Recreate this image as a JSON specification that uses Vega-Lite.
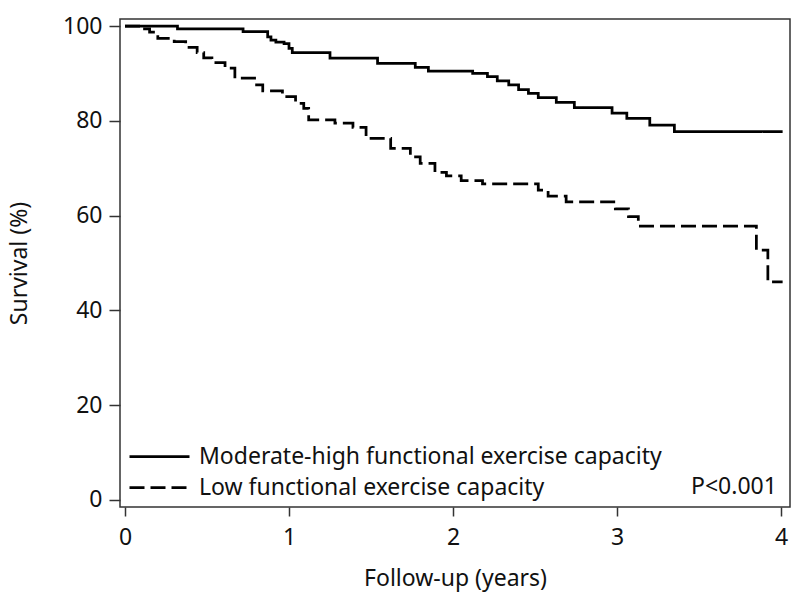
{
  "$schema": "https://vega.github.io/schema/vega-lite/v6.json",
  "width": 670,
  "height": 488,
  "autosize": "none",
  "padding": {"left": 120, "top": 19, "right": 10, "bottom": 93},
  "background": "white",
  "config": {
    "font": "Noto Sans",
    "view": {"stroke": "#333333", "strokeWidth": 1.5},
    "axis": {"grid": false, "domain": false, "tickColor": "#333333", "tickWidth": 1.5, "labelColor": "#111111", "titleColor": "#111111", "labelFontSize": 23, "titleFontSize": 23, "titleFontWeight": "normal", "labelFont": "Noto Sans", "titleFont": "Noto Sans"}
  },
  "datasets": {
    "curves": [
      {"group": "Moderate-high functional exercise capacity", "t": 0, "s": 100},
      {"group": "Moderate-high functional exercise capacity", "t": 0.32, "s": 99.4},
      {"group": "Moderate-high functional exercise capacity", "t": 0.72, "s": 98.8},
      {"group": "Moderate-high functional exercise capacity", "t": 0.87, "s": 97.7},
      {"group": "Moderate-high functional exercise capacity", "t": 0.89, "s": 97.0},
      {"group": "Moderate-high functional exercise capacity", "t": 0.92, "s": 96.6},
      {"group": "Moderate-high functional exercise capacity", "t": 0.97, "s": 96.3},
      {"group": "Moderate-high functional exercise capacity", "t": 1.0, "s": 95.3},
      {"group": "Moderate-high functional exercise capacity", "t": 1.02, "s": 94.4},
      {"group": "Moderate-high functional exercise capacity", "t": 1.25, "s": 93.2},
      {"group": "Moderate-high functional exercise capacity", "t": 1.54, "s": 92.1},
      {"group": "Moderate-high functional exercise capacity", "t": 1.77, "s": 91.3},
      {"group": "Moderate-high functional exercise capacity", "t": 1.85, "s": 90.5},
      {"group": "Moderate-high functional exercise capacity", "t": 2.12, "s": 90.0},
      {"group": "Moderate-high functional exercise capacity", "t": 2.21, "s": 89.3},
      {"group": "Moderate-high functional exercise capacity", "t": 2.27, "s": 88.4},
      {"group": "Moderate-high functional exercise capacity", "t": 2.34, "s": 87.6},
      {"group": "Moderate-high functional exercise capacity", "t": 2.4, "s": 86.6},
      {"group": "Moderate-high functional exercise capacity", "t": 2.46, "s": 85.8},
      {"group": "Moderate-high functional exercise capacity", "t": 2.52, "s": 84.9},
      {"group": "Moderate-high functional exercise capacity", "t": 2.63, "s": 83.9},
      {"group": "Moderate-high functional exercise capacity", "t": 2.74, "s": 82.8},
      {"group": "Moderate-high functional exercise capacity", "t": 2.97, "s": 81.6},
      {"group": "Moderate-high functional exercise capacity", "t": 3.06, "s": 80.5},
      {"group": "Moderate-high functional exercise capacity", "t": 3.2, "s": 79.1},
      {"group": "Moderate-high functional exercise capacity", "t": 3.35, "s": 77.7},
      {"group": "Moderate-high functional exercise capacity", "t": 4.01, "s": 77.7},
      {"group": "Low functional exercise capacity", "t": 0, "s": 100},
      {"group": "Low functional exercise capacity", "t": 0.1, "s": 99.4},
      {"group": "Low functional exercise capacity", "t": 0.15, "s": 98.7},
      {"group": "Low functional exercise capacity", "t": 0.2, "s": 97.4},
      {"group": "Low functional exercise capacity", "t": 0.3, "s": 96.7},
      {"group": "Low functional exercise capacity", "t": 0.37, "s": 95.5},
      {"group": "Low functional exercise capacity", "t": 0.44, "s": 94.4},
      {"group": "Low functional exercise capacity", "t": 0.48, "s": 93.3},
      {"group": "Low functional exercise capacity", "t": 0.53, "s": 92.3},
      {"group": "Low functional exercise capacity", "t": 0.61, "s": 91.1},
      {"group": "Low functional exercise capacity", "t": 0.67, "s": 89.0},
      {"group": "Low functional exercise capacity", "t": 0.79, "s": 87.6},
      {"group": "Low functional exercise capacity", "t": 0.84, "s": 86.3},
      {"group": "Low functional exercise capacity", "t": 0.96, "s": 85.1},
      {"group": "Low functional exercise capacity", "t": 1.04, "s": 83.7},
      {"group": "Low functional exercise capacity", "t": 1.09, "s": 82.6},
      {"group": "Low functional exercise capacity", "t": 1.12, "s": 80.2},
      {"group": "Low functional exercise capacity", "t": 1.28, "s": 79.5},
      {"group": "Low functional exercise capacity", "t": 1.39, "s": 78.6},
      {"group": "Low functional exercise capacity", "t": 1.47, "s": 76.3},
      {"group": "Low functional exercise capacity", "t": 1.62, "s": 74.2},
      {"group": "Low functional exercise capacity", "t": 1.74, "s": 72.4},
      {"group": "Low functional exercise capacity", "t": 1.8, "s": 71.0},
      {"group": "Low functional exercise capacity", "t": 1.89, "s": 69.1},
      {"group": "Low functional exercise capacity", "t": 1.96, "s": 68.4},
      {"group": "Low functional exercise capacity", "t": 2.05, "s": 67.4},
      {"group": "Low functional exercise capacity", "t": 2.18, "s": 66.7},
      {"group": "Low functional exercise capacity", "t": 2.52, "s": 65.4},
      {"group": "Low functional exercise capacity", "t": 2.58, "s": 64.1},
      {"group": "Low functional exercise capacity", "t": 2.69, "s": 62.9},
      {"group": "Low functional exercise capacity", "t": 2.99, "s": 61.4},
      {"group": "Low functional exercise capacity", "t": 3.07, "s": 59.8},
      {"group": "Low functional exercise capacity", "t": 3.13, "s": 57.8},
      {"group": "Low functional exercise capacity", "t": 3.85, "s": 52.7},
      {"group": "Low functional exercise capacity", "t": 3.92, "s": 46.0},
      {"group": "Low functional exercise capacity", "t": 4.01, "s": 46.0}
    ],
    "note": [{"label": "P<0.001"}]
  },
  "layer": [
    {
      "data": {"name": "curves"},
      "mark": {"type": "line", "interpolate": "step-after", "strokeWidth": 2.75, "strokeCap": "butt", "color": "#000000"},
      "encoding": {
        "x": {"field": "t", "type": "quantitative", "scale": {"domain": [-0.0305, 4.055], "nice": false, "zero": false}, "axis": {"values": [0, 1, 2, 3, 4], "format": "d", "title": "Follow-up (years)", "tickSize": 9, "labelPadding": 10, "titlePadding": 18}},
        "y": {"field": "s", "type": "quantitative", "scale": {"domain": [-1.48, 101.48], "nice": false, "zero": false}, "axis": {"values": [0, 20, 40, 60, 80, 100], "format": "d", "title": "Survival (%)", "tickSize": 11, "labelPadding": 7, "titlePadding": 31}},
        "detail": {"field": "group", "type": "nominal"},
        "strokeDash": {"field": "group", "type": "nominal", "scale": {"domain": ["Moderate-high functional exercise capacity", "Low functional exercise capacity"], "range": [[1, 0], [15, 6]]}, "legend": {"title": null, "orient": "none", "legendX": 28, "legendY": 426, "padding": 0, "symbolType": "M-3,0H3", "symbolSize": 400, "symbolStrokeWidth": 2.75, "symbolStrokeColor": "#000000", "labelFontSize": 23, "labelColor": "#111111", "labelOffset": 28, "rowPadding": 7, "labelLimit": 700}}
      }
    },
    {
      "data": {"name": "note"},
      "mark": {"type": "text", "align": "right", "baseline": "middle", "fontSize": 23, "color": "#111111"},
      "encoding": {
        "x": {"datum": 3.975, "type": "quantitative"},
        "y": {"datum": 2.74, "type": "quantitative"},
        "text": {"field": "label"}
      }
    }
  ]
}
